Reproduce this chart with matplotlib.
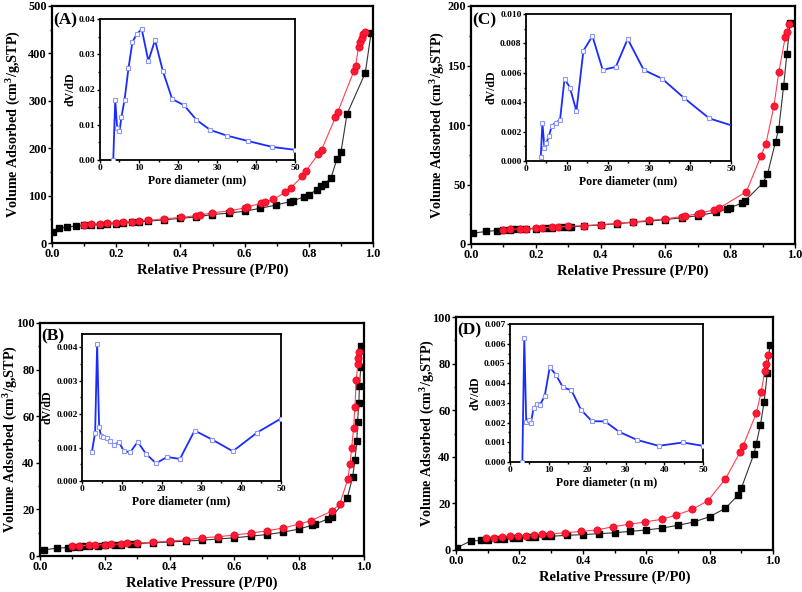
import matplotlib
matplotlib.use("Agg")
import matplotlib.pyplot as plt
from matplotlib.ticker import MultipleLocator, FormatStrFormatter

plt.rcParams['font.family'] = ['Liberation Serif', 'DejaVu Serif']
plt.rcParams['font.weight'] = 'bold'
plt.rcParams['mathtext.fontset'] = 'custom'
plt.rcParams['mathtext.rm'] = 'Liberation Serif:bold'
plt.rcParams['mathtext.bf'] = 'Liberation Serif:bold'

# ---------------- Panel A ----------------
a_ads_x = [0.003, 0.023, 0.047, 0.075, 0.1, 0.12, 0.15, 0.17, 0.2, 0.22, 0.25, 0.27, 0.3, 0.35, 0.4, 0.45,
           0.498, 0.55, 0.6, 0.647, 0.697, 0.74, 0.75, 0.784, 0.8, 0.824, 0.839, 0.85, 0.869, 0.888, 0.90,
           0.919, 0.976, 0.994]
a_ads_y = [22.5, 31, 33.7, 35.8, 37, 38, 39, 40, 41, 42, 44, 45, 46, 49, 52, 55,
           60, 63, 67, 73, 80, 87, 89, 97, 102, 112, 121, 125, 137, 178, 191,
           272, 359, 443]
a_des_x = [0.1, 0.12, 0.15, 0.17, 0.2, 0.22, 0.25, 0.27, 0.3, 0.35, 0.402, 0.45, 0.46, 0.5, 0.556, 0.6,
           0.607, 0.652, 0.665, 0.69, 0.727, 0.745, 0.78, 0.79, 0.83, 0.84, 0.883, 0.89, 0.94, 0.946,
           0.955, 0.96, 0.965, 0.97, 0.975]
a_des_y = [38.6, 39.5, 40.5, 41.5, 42.5, 43.5, 45, 46.5, 47.7, 51, 54, 57.6, 58.5, 64, 68, 74,
           76, 83.6, 85.5, 92.7, 106.7, 117, 141, 151, 188, 197, 265, 276, 362, 374,
           414, 424, 432, 440, 445]
a_psd_x = [3.4, 3.9, 4.4, 5.0, 5.5, 6.3, 7.3, 8.3, 9.4, 10.7, 12.4, 14.1, 16.1, 18.5, 21.6, 24.7,
           28.3, 32.6, 37.9, 44.2, 49.9]
a_psd_y = [0.0, 0.0171, 0.0091, 0.0082, 0.0122, 0.0171, 0.026, 0.0334, 0.0357, 0.0371, 0.0281,
           0.034, 0.0253, 0.0173, 0.0155, 0.0114, 0.0085, 0.0069, 0.0054, 0.0037, 0.0029]

# ---------------- Panel C ----------------
c_ads_x = [0.005, 0.047, 0.08, 0.1, 0.12, 0.13, 0.15, 0.17, 0.2, 0.23, 0.25, 0.28, 0.3, 0.31, 0.35, 0.4,
           0.45, 0.5, 0.55, 0.6, 0.65, 0.7, 0.755, 0.79, 0.8, 0.835, 0.845, 0.9, 0.915, 0.94, 0.95,
           0.965, 0.975, 0.985]
c_ads_y = [9, 10.6, 11.3, 11.8, 12, 12.2, 12.4, 12.7, 13, 13.4, 13.6, 14, 14.2, 14.4, 15.2, 16,
           17, 18.2, 19.2, 20.5, 22, 23.8, 26.6, 29.5, 30.6, 34.2, 36.1, 51, 58.5, 86, 97,
           133, 160, 186]
c_des_x = [0.1, 0.12, 0.15, 0.17, 0.2, 0.22, 0.25, 0.27, 0.3, 0.35, 0.4, 0.45, 0.5, 0.55, 0.6, 0.65,
           0.66, 0.7, 0.71, 0.75, 0.765, 0.85, 0.895, 0.91, 0.935, 0.95, 0.97, 0.975, 0.98]
c_des_y = [12, 12.3, 12.8, 13, 13.4, 13.8, 14, 14.4, 14.8, 15.5, 16.3, 17.3, 18.6, 19.8, 21.2, 23,
           23.4, 25.5, 26, 28.8, 30, 44, 74, 84, 116, 144.5, 174, 178, 184.6]
c_psd_x = [3.6, 4.0, 4.5, 5.0, 5.6, 6.3, 7.2, 8.3, 9.4, 10.7, 12.3, 14.0, 16.2, 18.7, 21.9, 24.8,
           28.7, 33.2, 38.5, 44.7, 51.5]
c_psd_y = [0.00027, 0.0026, 0.00088, 0.00125, 0.0017, 0.0024, 0.0026, 0.0028, 0.0056, 0.0050,
           0.0034, 0.0075, 0.0085, 0.0062, 0.0064, 0.0083, 0.0062, 0.0056, 0.0043, 0.0029, 0.0023]

# ---------------- Panel B ----------------
b_ads_x = [0.011, 0.054, 0.086, 0.1, 0.12, 0.13, 0.15, 0.18, 0.2, 0.23, 0.25, 0.28, 0.3, 0.35, 0.4,
           0.45, 0.5, 0.55, 0.6, 0.65, 0.7, 0.75, 0.8, 0.84, 0.85, 0.89, 0.9, 0.948, 0.965, 0.972,
           0.978, 0.98, 0.984, 0.986, 0.99, 0.992]
b_ads_y = [2.6, 3.4, 3.6, 3.8, 4.0, 4.1, 4.3, 4.5, 4.6, 4.8, 4.9, 5.1, 5.3, 5.7, 6.0,
           6.4, 6.8, 7.3, 7.8, 8.5, 9.2, 10.2, 11.6, 13.2, 13.7, 16, 16.8, 24.7, 34, 41,
           49.5, 57.5, 65.5, 73, 81, 90]
b_des_x = [0.1, 0.12, 0.15, 0.17, 0.2, 0.22, 0.25, 0.27, 0.3, 0.35, 0.4, 0.45, 0.5, 0.55, 0.6, 0.65,
           0.7, 0.75, 0.8, 0.835, 0.9, 0.925, 0.95, 0.957, 0.962, 0.968, 0.972, 0.976, 0.981, 0.983,
           0.986]
b_des_y = [4.2, 4.4, 4.6, 4.7, 4.9, 5.0, 5.2, 5.4, 5.6, 5.9, 6.4, 6.9, 7.8, 8.3, 9.0, 9.8,
           10.8, 12, 13.7, 15.1, 19.2, 22.2, 33, 39.5, 46.5, 55, 64, 75.5, 82.5, 85, 87.5]
b_psd_x = [2.5, 3.3, 3.8, 4.3, 4.8, 5.4, 6.2, 7.1, 8.0, 9.3, 10.5, 12.1, 14.0, 16.1, 18.6, 21.4,
           24.6, 28.3, 32.7, 37.9, 44.0, 50.0]
b_psd_y = [0.00088, 0.00145, 0.00411, 0.00162, 0.00134, 0.00133, 0.00128, 0.00119, 0.00109,
           0.00116, 0.0009, 0.00086, 0.00117, 0.00081, 0.00053, 0.00072, 0.00066, 0.00151,
           0.00124, 0.00089, 0.00145, 0.00187]

# ---------------- Panel D ----------------
d_ads_x = [0.003, 0.047, 0.08, 0.1, 0.13, 0.15, 0.18, 0.2, 0.23, 0.25, 0.28, 0.3, 0.35, 0.4, 0.45,
           0.5, 0.55, 0.6, 0.65, 0.7, 0.75, 0.8, 0.85, 0.89, 0.9, 0.94, 0.947, 0.96, 0.972, 0.982, 0.99]
d_ads_y = [1.0, 3.9, 4.1, 4.5, 4.7, 4.9, 5.1, 5.3, 5.4, 5.6, 5.8, 5.9, 6.3, 6.6, 7.0,
           7.4, 8.0, 8.6, 9.4, 10.6, 12, 14.3, 17.9, 23.6, 26.5, 41.3, 45.5, 53.5, 63.5, 76, 88]
d_des_x = [0.095, 0.12, 0.145, 0.17, 0.195, 0.22, 0.245, 0.27, 0.295, 0.345, 0.395, 0.445, 0.495,
           0.545, 0.595, 0.65, 0.695, 0.745, 0.795, 0.85, 0.897, 0.905, 0.947, 0.963, 0.974, 0.978,
           0.983]
d_des_y = [5.1, 5.3, 5.6, 5.8, 6.0, 6.2, 6.4, 6.7, 6.9, 7.4, 8.0, 8.6, 10.0,
           11.0, 12.0, 13.2, 15.0, 17.4, 21.2, 30.5, 42.2, 44.5, 58.6, 68, 77, 80, 83.5]
d_psd_x = [3.2, 3.7, 4.2, 4.8, 5.4, 6.1, 6.9, 7.8, 9.0, 10.3, 11.9, 13.7, 15.9, 18.4, 21.2, 24.6,
           28.3, 32.9, 38.5, 44.8, 50.0]
d_psd_y = [0.0, 0.0063, 0.00204, 0.00211, 0.00197, 0.00272, 0.00292, 0.0029, 0.00336, 0.00481,
           0.00442, 0.00379, 0.00364, 0.00265, 0.00207, 0.00206, 0.00153, 0.00112, 0.00082,
           0.00099, 0.00082]

W, H = 803, 592
fig = plt.figure(figsize=(W / 100, H / 100), dpi=100)


def rect(l, r, t, b):
    return [l / W, 1 - b / H, (r - l) / W, (b - t) / H]


def style_axes(ax, lw=1.5):
    for s in ax.spines.values():
        s.set_linewidth(lw)
    ax.tick_params(which='both', direction='out', top=False, right=False, width=1.0)


def main_panel(box, ads_x, ads_y, des_x, des_y, ymax, ymaj, label, ylab_px):
    ax = fig.add_axes(rect(*box))
    ax.plot(ads_x, ads_y, color='#333333', lw=0.8, marker='s', ms=4.6, mfc='black', mec='black', zorder=2)
    ax.plot(des_x, des_y, color='#ff4050', lw=0.8, marker='o', ms=5.2, mfc='#ff1a33', mec='#e8001c',
            mew=0.5, zorder=3)
    ax.set_xlim(0, 1.0)
    ax.set_ylim(0, ymax)
    ax.xaxis.set_major_locator(MultipleLocator(0.2))
    ax.xaxis.set_minor_locator(MultipleLocator(0.1))
    ax.yaxis.set_major_locator(MultipleLocator(ymaj))
    ax.yaxis.set_minor_locator(MultipleLocator(ymaj / 2))
    ax.xaxis.set_major_formatter(FormatStrFormatter('%.1f'))
    style_axes(ax, 1.6)
    ax.tick_params(which='major', length=2.6, labelsize=8.8, pad=1.2)
    ax.tick_params(which='minor', length=1.8)
    ax.set_xlabel('Relative Pressure (P/P0)', fontsize=10.5, fontweight='bold', labelpad=2)
    ax.set_ylabel(r'Volume Adsorbed (cm$^{3}$/g,STP)', fontsize=10.2, fontweight='bold', va='center')
    width_px = box[1] - box[0]
    ax.yaxis.set_label_coords((ylab_px - box[0]) / width_px, 0.5)
    for t in ax.get_xticklabels() + ax.get_yticklabels():
        t.set_fontweight('bold')
    ax.text(0.004, 0.975, label, transform=ax.transAxes, fontsize=12.5, fontweight='bold',
            ha='left', va='top')
    return ax


def inset_panel(box, px, py, ymax, ymaj, fmt, xlabel):
    ax = fig.add_axes(rect(*box))
    ax.set_facecolor('white')
    ax.plot([px[0], 50], [0, 0], color='#3344ff', lw=1.0, zorder=2)
    ax.plot(px, py, color='#1a2bff', lw=1.3, marker='s', ms=2.6, mfc='white', mec='#8c96ff',
            mew=0.8, zorder=3)
    ax.set_xlim(0, 50)
    ax.set_ylim(0, ymax)
    ax.xaxis.set_major_locator(MultipleLocator(10))
    ax.xaxis.set_minor_locator(MultipleLocator(5))
    ax.yaxis.set_major_locator(MultipleLocator(ymaj))
    ax.yaxis.set_minor_locator(MultipleLocator(ymaj / 2))
    ax.yaxis.set_major_formatter(FormatStrFormatter(fmt))
    style_axes(ax, 1.3)
    ax.tick_params(which='major', length=2.2, labelsize=6.8, pad=1)
    ax.tick_params(which='minor', length=1.4)
    for t in ax.get_xticklabels() + ax.get_yticklabels():
        t.set_fontweight('bold')
    ax.set_xlabel(xlabel, fontsize=8.5, fontweight='bold', labelpad=1)
    ax.set_ylabel('dV/dD', fontsize=8.5, fontweight='bold', labelpad=2)
    return ax


main_panel((52, 373, 6, 243), a_ads_x, a_ads_y, a_des_x, a_des_y, 500, 100, '(A)', 13)
inset_panel((100, 295, 19, 160), a_psd_x, a_psd_y, 0.04, 0.01, '%.2f', 'Pore diameter (nm)')

main_panel((471, 795, 6, 244), c_ads_x, c_ads_y, c_des_x, c_des_y, 200, 50, '(C)', 437)
inset_panel((526, 731, 14, 161), c_psd_x, c_psd_y, 0.010, 0.002, '%.3f', 'Pore diameter (nm)')

main_panel((40, 364, 323, 556), b_ads_x, b_ads_y, b_des_x, b_des_y, 100, 20, '(B)', 10)
inset_panel((82, 281, 334, 481), b_psd_x, b_psd_y, 0.0044, 0.001, '%.3f', 'Pore diameter (nm)')

main_panel((456, 773, 317, 550), d_ads_x, d_ads_y, d_des_x, d_des_y, 100, 20, '(D)', 427)
inset_panel((510, 703, 324, 462), d_psd_x, d_psd_y, 0.007, 0.001, '%.3f', 'Pore diameter (n m)')

fig.savefig('out.png', dpi=100, facecolor='white')
